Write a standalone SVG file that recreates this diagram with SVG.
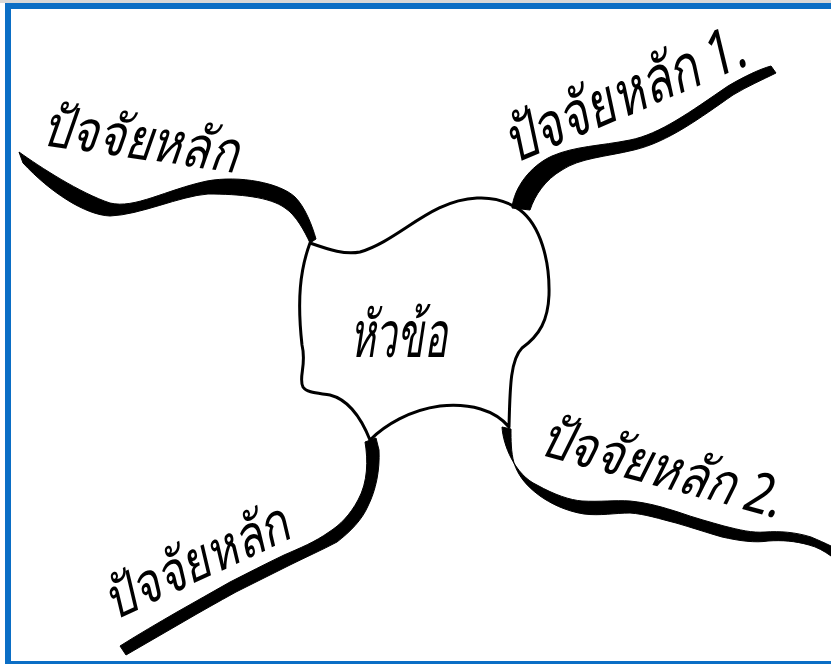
<svg xmlns="http://www.w3.org/2000/svg" width="831" height="664" viewBox="0 0 831 664">
<style>
.br{fill:#000;stroke:#000;stroke-width:1;stroke-linejoin:round}
.ln{fill:none;stroke:#000;stroke-linecap:round;stroke-linejoin:round}
.lbl{font-family:"Noto Sans","DejaVu Sans",sans-serif;font-style:italic;fill:#000}
</style>
<rect x="0" y="0" width="831" height="664" fill="#fff"/>
<rect x="0" y="0" width="831" height="3" fill="#d8d8d8"/>
<g id="frame" fill="#0b6ec5">
<rect x="5" y="3" width="826" height="6"/>
<rect x="5" y="3" width="6" height="661"/>
<rect x="5" y="661" width="826" height="3"/>
</g>
<g id="connectors">
<path class="br" d="M19,152 C40,167 80,193 110,203 C135,209 165,190 207,181 C240,175 280,183 295,197 C305,207 312,225 316,239 L310,243 C305,232 296,215 285,208 C270,197 240,194 208,194 C180,196 140,215 110,216 C85,215 50,192 23,163 Z"/>
<path class="br" d="M512,208 C514,188 530,166 552,156 C575,146 600,146 630,140 C660,134 690,112 728,86 C745,76 760,69 771,66 L776,73 C762,80 748,86 733,95 C700,118 668,142 634,150 C605,157 580,158 562,170 C545,180 535,195 530,210 Z"/>
<path class="br" d="M502,427 C503,445 515,475 537,485 C555,495 570,500 582,501 C600,502 615,500 630,501 C650,503 665,508 678,512 C695,518 710,522 724,526 C740,530 752,533 765,532 C780,531 795,532 811,537 C818,540 825,543 831,546 L831,556 C824,551 817,547 809,545 C795,541 782,540 768,541 C755,543 740,541 722,537 C708,533 690,527 676,523 C660,519 645,514 630,513 C615,513 600,516 584,514 C565,511 550,503 540,496 C525,485 518,475 514,463 C511,452 511,440 511,429 Z"/>
<path class="br" d="M365,442 C368,460 368,482 358,500 C350,515 340,525 329,532 C315,542 300,548 284,555 C265,564 248,573 230,582 C212,592 195,602 177,612 C158,623 139,634 120,646 L126,655 C145,644 164,633 183,622 C200,612 218,602 236,592 C254,583 272,574 290,565 C306,557 322,550 337,542 C350,532 362,520 368,506 C376,490 380,470 379,450 L376,438 Z"/>
</g>
<g id="topic">
<path class="ln" stroke-width="3" d="M310,243 C330,250 345,255 360,252 C400,240 430,200 477,198 C495,197 510,203 520,210 C540,225 550,260 549,295 C548,320 540,335 522,348 C510,360 510,390 509,427 C495,410 470,403 440,406 C410,410 385,425 370,440 C362,420 350,400 330,395 C318,393 307,393 303,387 C298,378 307,365 302,345 C297,300 300,270 310,243 Z"/>
<text class="lbl" x="350" y="357" font-size="64" textLength="97" lengthAdjust="spacingAndGlyphs">หัวข้อ</text>
</g>
<g id="factor-tl" transform="translate(40 145) rotate(8)">
<text class="lbl" x="0" y="0" font-size="58" textLength="197" lengthAdjust="spacingAndGlyphs">ปัจจัยหลัก</text>
</g>
<g id="factor-1" transform="translate(514 164) rotate(-23) scale(1 1.3)">
<text class="lbl" x="0" y="0" font-size="48" textLength="258" lengthAdjust="spacingAndGlyphs">ปัจจัยหลัก 1.</text>
</g>
<g id="factor-2" transform="translate(537 454) rotate(15) scale(1 1.3)">
<text class="lbl" x="0" y="0" font-size="44" textLength="250" lengthAdjust="spacingAndGlyphs">ปัจจัยหลัก 2.</text>
</g>
<g id="factor-bl" transform="translate(114 621) rotate(-25)">
<text class="lbl" x="0" y="0" font-size="56" textLength="198" lengthAdjust="spacingAndGlyphs">ปัจจัยหลัก</text>
</g>
</svg>
